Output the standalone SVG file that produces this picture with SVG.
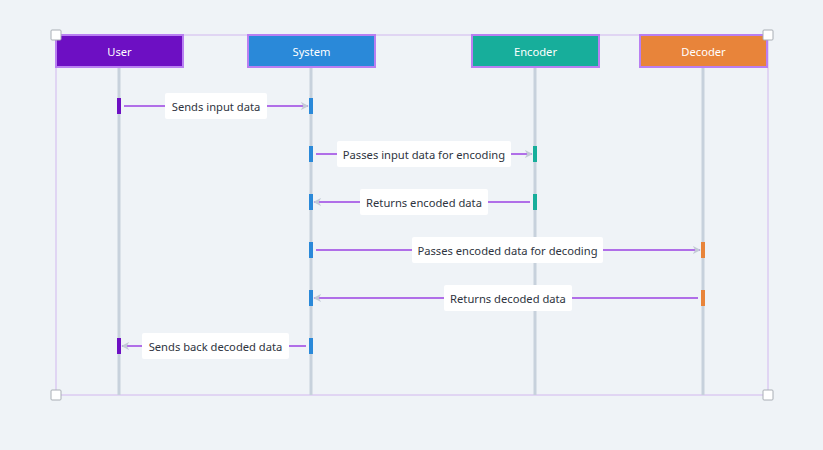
<svg xmlns="http://www.w3.org/2000/svg" width="823" height="450" viewBox="0 0 823 450">
<defs>
<style>
.actor{stroke:#b97ff2;stroke-width:2}
.atxt{font-family:"Noto Sans","Open Sans",sans-serif;font-size:11.2px;font-weight:400;fill:#ffffff;text-anchor:middle;dominant-baseline:central}
.life{stroke:#c7d1dc;stroke-width:3}
.msg{stroke:#b06ee8;stroke-width:2;fill:none}
.lbl{fill:#ffffff}
.ltxt{font-family:"Noto Sans","Open Sans",sans-serif;font-size:11.2px;font-weight:400;fill:#2e3440;text-anchor:middle;dominant-baseline:central}
.handle{fill:#ffffff;stroke:#a9aeb5;stroke-width:1}
</style>
<marker id="ah" viewBox="0 0 10 10" refX="9" refY="5" markerWidth="8" markerHeight="8" markerUnits="userSpaceOnUse" orient="auto">
<path d="M0,0 L10,5 L0,10 L3,5 Z" fill="#c3cad6"/>
</marker>
</defs>
<rect width="823" height="450" fill="#eff3f7"/>
<rect x="56" y="35" width="712" height="360" fill="none" stroke="#dccbf2" stroke-width="1.5"/>
<g id="lifelines">
<line class="life" x1="119" y1="67" x2="119" y2="395"/>
<line class="life" x1="311" y1="67" x2="311" y2="395"/>
<line class="life" x1="535" y1="67" x2="535" y2="395"/>
<line class="life" x1="703" y1="67" x2="703" y2="395"/>
</g>
<g id="user"><rect class="actor" x="56" y="35" width="127" height="32" fill="#6d0fc3"/><text class="atxt" x="119.5" y="51.5">User</text></g>
<g id="system"><rect class="actor" x="248" y="35" width="127" height="32" fill="#2a89d9"/><text class="atxt" x="311.5" y="51.5">System</text></g>
<g id="encoder"><rect class="actor" x="472" y="35" width="127" height="32" fill="#17ae9b"/><text class="atxt" x="535.5" y="51.5">Encoder</text></g>
<g id="decoder"><rect class="actor" x="640" y="35" width="127" height="32" fill="#e8843a"/><text class="atxt" x="703.5" y="51.5">Decoder</text></g>
<g id="activations">
<rect x="117" y="98" width="4" height="16" fill="#6d0fc3"/>
<rect x="309" y="98" width="4" height="16" fill="#2a89d9"/>
<rect x="309" y="146" width="4" height="16" fill="#2a89d9"/>
<rect x="533" y="146" width="4" height="16" fill="#17ae9b"/>
<rect x="309" y="194" width="4" height="16" fill="#2a89d9"/>
<rect x="533" y="194" width="4" height="16" fill="#17ae9b"/>
<rect x="309" y="242" width="4" height="16" fill="#2a89d9"/>
<rect x="701" y="242" width="4" height="16" fill="#e8843a"/>
<rect x="309" y="290" width="4" height="16" fill="#2a89d9"/>
<rect x="701" y="290" width="4" height="16" fill="#e8843a"/>
<rect x="117" y="338" width="4" height="16" fill="#6d0fc3"/>
<rect x="309" y="338" width="4" height="16" fill="#2a89d9"/>
</g>
<g id="connectors">
<line class="msg" x1="124" y1="106" x2="308" y2="106" marker-end="url(#ah)"/>
<line class="msg" x1="316" y1="154" x2="532" y2="154" marker-end="url(#ah)"/>
<line class="msg" x1="530" y1="202" x2="314" y2="202" marker-end="url(#ah)"/>
<line class="msg" x1="316" y1="250" x2="700" y2="250" marker-end="url(#ah)"/>
<line class="msg" x1="698" y1="298" x2="314" y2="298" marker-end="url(#ah)"/>
<line class="msg" x1="306" y1="346" x2="122" y2="346" marker-end="url(#ah)"/>
</g>
<g id="labels">
<rect class="lbl" x="165" y="93" width="102" height="26" rx="2"/><text class="ltxt" x="216" y="106.5">Sends input data</text>
<rect class="lbl" x="337" y="141" width="174" height="26" rx="2"/><text class="ltxt" x="424" y="154.5">Passes input data for encoding</text>
<rect class="lbl" x="360" y="189" width="128" height="26" rx="2"/><text class="ltxt" x="424" y="202.5">Returns encoded data</text>
<rect class="lbl" x="412" y="237" width="191" height="26" rx="2"/><text class="ltxt" x="507.5" y="250.5">Passes encoded data for decoding</text>
<rect class="lbl" x="444" y="285" width="128" height="26" rx="2"/><text class="ltxt" x="508" y="298.5">Returns decoded data</text>
<rect class="lbl" x="142" y="333" width="147" height="26" rx="2"/><text class="ltxt" x="215.5" y="346.5">Sends back decoded data</text>
</g>
<g id="handles">
<rect class="handle" x="51" y="30" width="10" height="10" rx="1"/>
<rect class="handle" x="763" y="30" width="10" height="10" rx="1"/>
<rect class="handle" x="51" y="390" width="10" height="10" rx="1"/>
<rect class="handle" x="763" y="390" width="10" height="10" rx="1"/>
</g>
</svg>
